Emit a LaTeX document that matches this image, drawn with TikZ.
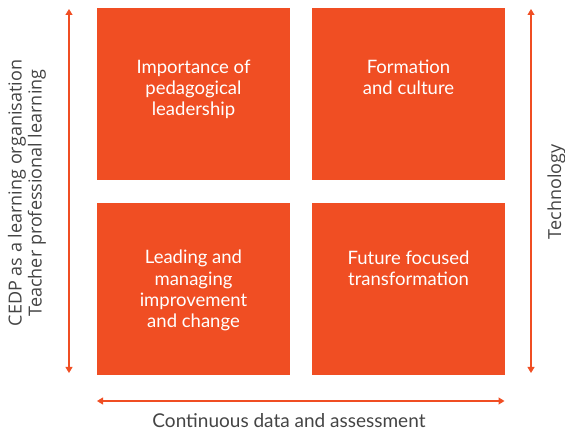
\documentclass[tikz,border=0pt]{standalone}
\usepackage{fontspec}
\setmainfont{Lato}
\newfontfamily\sidefont{Open Sans}
\usetikzlibrary{arrows.meta}
\definecolor{brand}{HTML}{F04E23}
\definecolor{txtgray}{HTML}{444444}
\begin{document}
\begin{tikzpicture}[x=1pt,y=-1pt,
  quad/.style={fill=brand, draw=none, minimum width=193pt, minimum height=172pt, anchor=north west, inner sep=0pt, outer sep=0pt},
  quadtext/.style={text=white, font=\fontsize{18.5}{21.2}\selectfont, align=center, anchor=base, inner sep=0pt},
  axislabel/.style={text=txtgray, inner sep=0pt},
  axis/.style={draw=brand, line width=1.1pt, {Triangle[length=6pt,width=7pt]}-{Triangle[length=6pt,width=7pt]}}]
\useasboundingbox (0,0) rectangle (565,435);
\node[quad] (tl) at (97,8) {};
\node[quad] (tr) at (312,8) {};
\node[quad] (bl) at (97,203) {};
\node[quad] (br) at (312,203) {};
\node[quadtext] (tlt) at (193.5,116) {Importance of\\pedagogical\\leadership};
\node[quadtext] (trt) at (408.5,95) {Formation\\and culture};
\node[quadtext] (blt) at (193.5,327.5) {Leading and\\managing\\improvement\\and change};
\node[quadtext] (brt) at (408.5,286) {Future focused\\transformation};
\coordinate (ltop) at (69,9);
\coordinate (lbot) at (69,373);
\coordinate (rtop) at (531,9);
\coordinate (rbot) at (531,373);
\coordinate (hl) at (97,401);
\coordinate (hr) at (504.5,401);
\draw[axis] (ltop) -- (lbot);
\draw[axis] (rtop) -- (rbot);
\draw[axis] (hl) -- (hr);
\node[axislabel, font=\sidefont\fontsize{18}{20}\selectfont, align=center, rotate=90] (left) at (27,193) {CEDP as a learning organisation\\Teacher professional learning};
\node[axislabel, font=\sidefont\fontsize{18}{20}\selectfont, rotate=90, anchor=base] (right) at (561,192) {Technology};
\node[axislabel, font=\fontsize{19}{21}\selectfont, anchor=base] (bottom) at (289,428) {Continuous data and assessment};
\end{tikzpicture}
\end{document}
